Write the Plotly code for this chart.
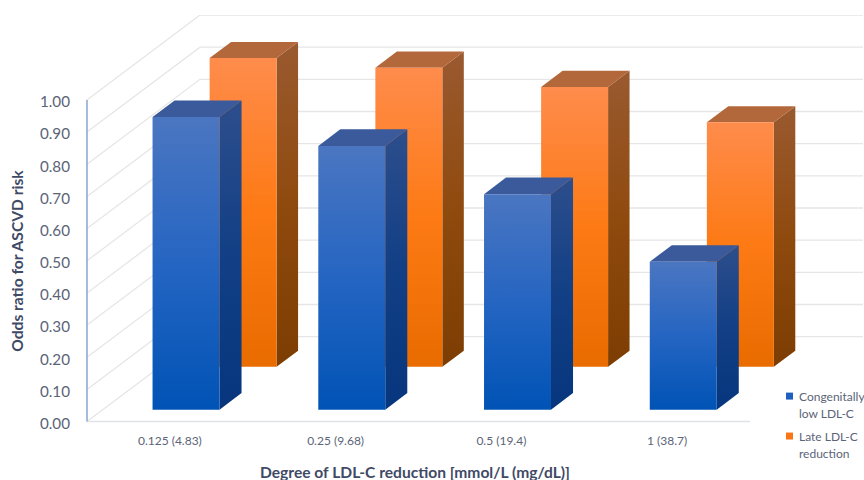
import plotly.graph_objects as go

# Chart values
categories = ["0.125 (4.83)", "0.25 (9.68)", "0.5 (19.4)", "1 (38.7)"]
congenital = [0.91, 0.82, 0.67, 0.46]
late = [0.96, 0.93, 0.87, 0.76]
y_ticks = [0.0, 0.1, 0.2, 0.3, 0.4, 0.5, 0.6, 0.7, 0.8, 0.9, 1.0]
legend_items = [("#1f5fbf", ["Congenitally", "low LDL-C"]), ("#f97516", ["Late LDL-C", "reduction"])]

# Oblique projection: depth 0..1 shifts a point right and up
DEPTH_X = 0.682
DEPTH_Y = 0.264
BAR_LEFT, BAR_RIGHT = 0.30, 0.704

# Plot frame in pixels; a little slack past zero keeps the axis lines unclipped
WIDTH, HEIGHT = 864, 480
M_L, M_R, M_T, M_B = 82, 0, 15, 51.56
PLOT_W, PLOT_H = WIDTH - M_L - M_R, HEIGHT - M_T - M_B


def paper_x(px):
    return (px - M_L) / PLOT_W


def paper_y(py):
    return (HEIGHT - M_B - py) / PLOT_H


def project(x, value, depth):
    return x + depth * DEPTH_X, value + depth * DEPTH_Y


def polygon(points):
    xs, ys = zip(*[project(*p) for p in points])
    return list(xs) + [xs[0]], list(ys) + [ys[0]]


def face(points, stops=None, color=None):
    xs, ys = polygon(points)
    trace = dict(x=xs, y=ys, mode="lines", line=dict(width=0), fill="toself",
                 showlegend=False, hoverinfo="skip")
    if stops:
        trace["fillgradient"] = dict(type="vertical", colorscale=stops)
    else:
        trace["fillcolor"] = color
    return go.Scatter(**trace)


def add_bar(fig, index, value, d0, d1, front, side, top):
    l, r = index + BAR_LEFT, index + BAR_RIGHT
    fig.add_trace(face([(r, 0, d0), (r, 0, d1), (r, value, d1), (r, value, d0)], stops=side))
    fig.add_trace(face([(l, value, d0), (r, value, d0), (r, value, d1), (l, value, d1)], color=top))
    fig.add_trace(face([(l, 0, d0), (r, 0, d0), (r, value, d0), (l, value, d0)], stops=front))


fig = go.Figure()

# Back wall and left wall gridlines
GRID = "#e6e6e6"
for tick in y_ticks:
    xs, ys = zip(project(0, tick, 0), project(0, tick, 1), project(len(categories), tick, 1))
    fig.add_trace(go.Scatter(x=xs, y=ys, mode="lines", line=dict(color=GRID, width=1.3),
                             showlegend=False, hoverinfo="skip"))

# Front floor edge and value axis
fig.add_trace(go.Scatter(x=[0, len(categories)], y=[0, 0], mode="lines",
                         line=dict(color="#dfe3e8", width=1.6),
                         showlegend=False, hoverinfo="skip"))
fig.add_trace(go.Scatter(x=[0, 0], y=[0, 1], mode="lines",
                         line=dict(color="#7f9fcb", width=1.4),
                         showlegend=False, hoverinfo="skip"))

ORANGE_FRONT = [[0, "#e96c00"], [0.5, "#fd7a14"], [1, "#ff8c4c"]]
ORANGE_SIDE = [[0, "#7d3d02"], [0.5, "#8f4a0e"], [1, "#9a5a30"]]
BLUE_FRONT = [[0, "#0053b5"], [0.5, "#2565c2"], [1, "#4b76c1"]]
BLUE_SIDE = [[0, "#07367e"], [0.5, "#123f85"], [1, "#2d4e8c"]]

for i, v in enumerate(late):
    add_bar(fig, i, v, 0.645, 0.835, ORANGE_FRONT, ORANGE_SIDE, "#b3683c")
for i, v in enumerate(congenital):
    add_bar(fig, i, v, 0.14, 0.335, BLUE_FRONT, BLUE_SIDE, "#3a5a9b")

TICK_COLOR = "#5b6477"
TITLE_COLOR = "#3f4a66"

# Legend keys and their two-line labels sit tight together at the lower right
annotations = [
    dict(text="<b>Degree of LDL-C reduction [mmol/L (mg/dL)]</b>", xref="paper", yref="paper",
         x=paper_x(415), y=paper_y(472), xanchor="center", yanchor="middle", showarrow=False,
         font=dict(size=15.6, color=TITLE_COLOR)),
    dict(text="<b>Odds ratio for ASCVD risk</b>", xref="paper", yref="paper", textangle=-90,
         x=paper_x(17), y=paper_y(261), xanchor="center", yanchor="middle", showarrow=False,
         font=dict(size=15.6, color=TITLE_COLOR)),
]
shapes = []
for (color, lines), top in zip(legend_items, (397, 437)):
    shapes.append(dict(type="rect", xref="paper", yref="paper", line=dict(width=0), fillcolor=color,
                       x0=paper_x(786), x1=paper_x(793), y0=paper_y(top + 3), y1=paper_y(top - 4)))
    for n, line in enumerate(lines):
        annotations.append(dict(text=line, xref="paper", yref="paper", x=paper_x(797),
                                y=paper_y(top + n * 17), xanchor="left", yanchor="middle",
                                showarrow=False, font=dict(size=12, color=TICK_COLOR)))

fig.update_layout(
    width=WIDTH, height=HEIGHT, autosize=False,
    margin=dict(l=M_L, r=M_R, t=M_T, b=M_B, autoexpand=False),
    paper_bgcolor="white", plot_bgcolor="white",
    font=dict(family="Lato", color=TICK_COLOR),
    showlegend=False,
    xaxis=dict(range=[-5 / 165.75, 4.688], showgrid=False, zeroline=False, showline=False,
               tickmode="array", tickvals=[i + 0.5 for i in range(len(categories))],
               ticktext=categories, tickfont=dict(size=12, color=TICK_COLOR),
               ticks="outside", ticklen=2, tickcolor="rgba(0,0,0,0)"),
    yaxis=dict(range=[-0.02, 1.264], showgrid=False, zeroline=False, showline=False,
               tickmode="array", tickvals=y_ticks, ticktext=[f"{t:.2f}" for t in y_ticks],
               tickfont=dict(size=15.2, color=TICK_COLOR), ticklabelshift=2,
               ticks="outside", ticklen=8, tickcolor="rgba(0,0,0,0)"),
    annotations=annotations,
    shapes=shapes,
)

fig.write_html("out.html")
